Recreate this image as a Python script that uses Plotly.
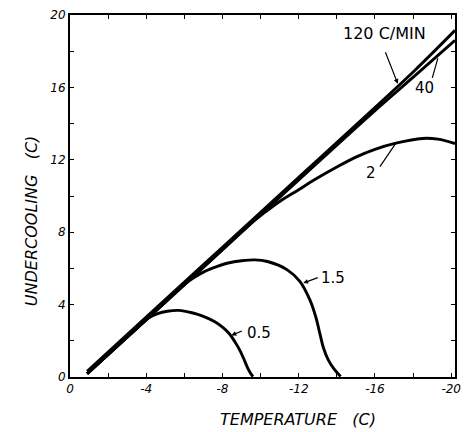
import plotly.graph_objects as go

# Data (temperature in C, undercooling in C)
T_120 = [-0.9, -4, -8, -12, -16, -18.1, -20.2]
U_120 = [0.32, 3.31, 7.17, 11.03, 14.89, 16.95, 19.15]

T_40 = [-0.9, -4, -8, -12, -16, -18.1, -20.2]
U_40 = [0.18, 3.17, 7.03, 10.89, 14.72, 16.65, 18.6]

T_2 = [-0.9, -4, -8, -9.5, -10.2, -11, -12, -12.8, -14, -15, -16, -17.1, -18.5, -19.3, -20.2]
U_2 = [0.18, 3.17, 7.03, 8.5, 9.08, 9.7, 10.35, 10.88, 11.6, 12.15, 12.58, 12.92, 13.18, 13.14, 12.9]

T_15 = [-0.9, -4, -6.0, -6.6, -7.1, -7.7, -8.3, -9.0, -9.7, -10.36, -11.4, -12.06,
        -12.58, -12.9, -13.12, -13.3, -13.55, -13.85, -14.2]
U_15 = [0.18, 3.17, 5.12, 5.55, 5.85, 6.1, 6.3, 6.42, 6.47, 6.38, 5.92, 5.28,
        4.27, 3.3, 2.35, 1.6, 0.95, 0.45, 0.03]

T_05 = [-0.9, -3.6, -4.1, -4.6, -5.1, -5.7, -6.4, -7.0, -7.6, -8.0, -8.35, -8.65, -8.9,
        -9.1, -9.3, -9.45, -9.6]
U_05 = [0.18, 2.8, 3.25, 3.5, 3.63, 3.68, 3.55, 3.35, 3.05, 2.75, 2.4, 1.95, 1.5,
        1.05, 0.55, 0.25, 0.02]

x_ticks = [0, -4, -8, -12, -16, -20]
x_tick_text = ["0", "-4", "-8", "-12", "-16", "-20"]
y_ticks = [0, 4, 8, 12, 16, 20]
y_tick_text = ["0", "4", "8", "12", "16", "20"]

series = [(T_120, U_120), (T_40, U_40), (T_2, U_2), (T_15, U_15), (T_05, U_05)]

fig = go.Figure()
for tx, uy in series:
    fig.add_trace(go.Scatter(x=tx, y=uy, mode="lines",
                             line=dict(color="black", width=2.9, shape="spline", smoothing=1.0),
                             showlegend=False, hoverinfo="skip"))

FONT = "DejaVu Sans"
axis_common = dict(showgrid=False, zeroline=False, showline=True, linecolor="black",
                   linewidth=2, mirror="allticks", ticks="inside", ticklen=4,
                   tickwidth=1.2, tickcolor="black", ticklabeloverflow="allow",
                   tickfont=dict(family=FONT, size=12, color="black", style="italic"),
                   minor=dict(ticks="inside", ticklen=4, tickwidth=1.2, tickcolor="black", dtick=2))

fig.update_xaxes(range=[0, -20.2], tickmode="array", tickvals=x_ticks, ticktext=x_tick_text,
                 **axis_common)
fig.update_yaxes(range=[0, 20], tickmode="array", tickvals=y_ticks, ticktext=y_tick_text,
                 **axis_common)

lab = dict(family=FONT, size=15, color="black")
annotations = [
    dict(x=-16.5, y=19.0, text="120 C/MIN", showarrow=False, font=dict(family=FONT, size=16, color="black")),
    dict(x=-18.6, y=15.95, text="40", showarrow=False, font=lab),
    dict(x=-15.8, y=11.27, text="2", showarrow=False, font=lab),
    dict(x=-13.8, y=5.48, text="1.5", showarrow=False, font=lab),
    dict(x=-9.9, y=2.45, text="0.5", showarrow=False, font=lab),
    # leaders
    dict(x=-17.2, y=16.2, text="", showarrow=True, ax=-13, ay=-33, arrowhead=2,
         arrowsize=0.8, arrowwidth=1.2, arrowcolor="black"),
    dict(x=-19.3, y=17.6, text="", showarrow=True, ax=-6, ay=21, arrowhead=0,
         arrowwidth=1.2, arrowcolor="black"),
    dict(x=-17.1, y=12.92, text="", showarrow=True, ax=-17, ay=25, arrowhead=0,
         arrowwidth=1.2, arrowcolor="black"),
    dict(x=-12.24, y=5.19, text="", showarrow=True, ax=16, ay=-6, arrowhead=2,
         arrowsize=0.8, arrowwidth=1.2, arrowcolor="black"),
    dict(x=-8.47, y=2.3, text="", showarrow=True, ax=12, ay=-5, arrowhead=2,
         arrowsize=0.8, arrowwidth=1.2, arrowcolor="black"),
]

fig.update_layout(
    width=465, height=432,
    margin=dict(l=70, r=4, t=14.5, b=54.5),
    paper_bgcolor="white", plot_bgcolor="white",
    showlegend=False,
)

# axis titles placed in paper coords computed from pixel targets
plot_w = 465 - 70 - 4
plot_h = 432 - 14.5 - 54.5
annotations.append(dict(x=(302 - 70) / plot_w, y=(432 - 54.5 - 420) / plot_h, xref="paper", yref="paper",
                        yanchor="middle", text="TEMPERATURE   (C)", showarrow=False,
                        font=dict(family=FONT, size=16, color="black", style="italic")))
annotations.append(dict(x=(20 - 70) / plot_w, y=(432 - 54.5 - 221) / plot_h, xref="paper", yref="paper",
                        text="UNDERCOOLING   (C)", showarrow=False, textangle=-90,
                        font=dict(family=FONT, size=16, color="black", style="italic")))
fig.update_layout(annotations=annotations)

fig.write_html("out.html")
